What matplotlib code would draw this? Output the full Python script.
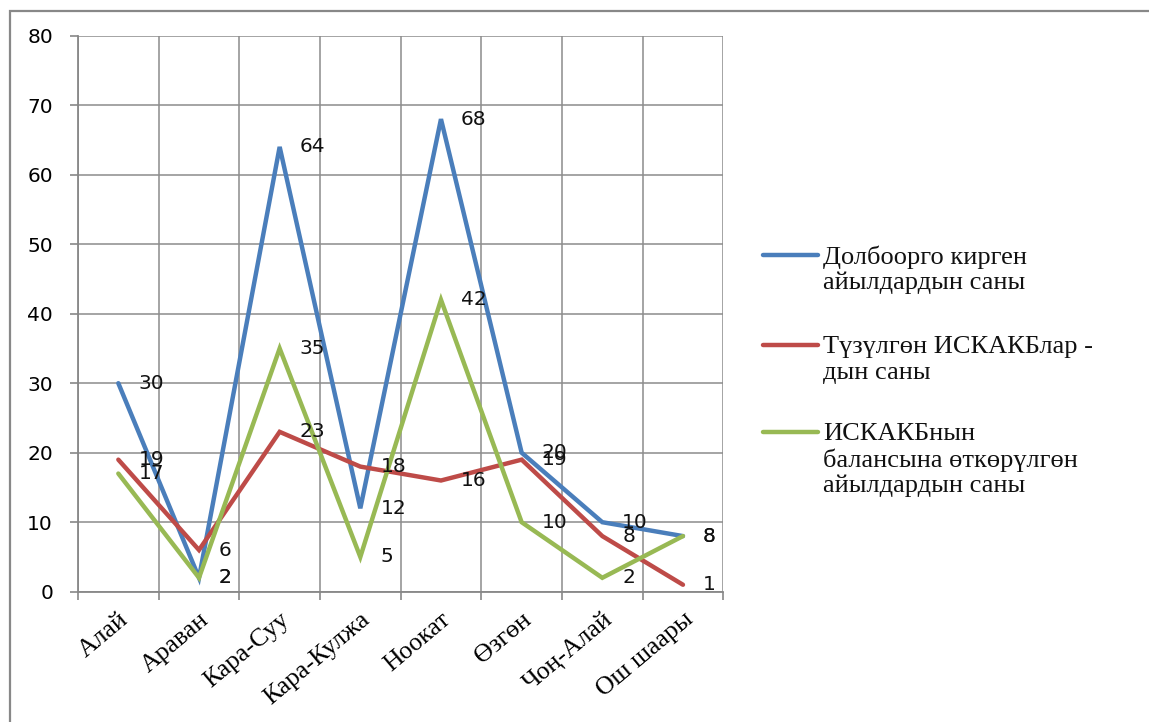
import matplotlib
matplotlib.use('Agg')
from matplotlib import pyplot as plt
from matplotlib.lines import Line2D
from matplotlib.patches import Rectangle
import numpy as np

categories = ['Алай', 'Араван', 'Кара-Суу', 'Кара-Кулжа', 'Ноокат', 'Өзгөн', 'Чоң-Алай', 'Ош шаары']
villages = [30, 2, 64, 12, 68, 20, 10, 8]
created = [19, 6, 23, 18, 16, 19, 8, 1]
transferred = [17, 2, 35, 5, 42, 10, 2, 8]

series_names = [
    ['Долбоорго кирген', 'айылдардын саны'],
    ['Түзүлгөн ИСКАКБлар -', 'дын саны'],
    ['ИСКАКБнын', 'балансына өткөрүлгөн', 'айылдардын саны'],
]
colors = ['#4A7EBB', '#BE4B48', '#98B954']

W, H = 1149, 722
fig = plt.figure(figsize=(W / 100, H / 100), dpi=100)
ax = fig.add_axes([78 / W, 1 - 591.7 / H, (723.3 - 78) / W, (591.7 - 35.7) / H])

x = np.arange(len(categories))
for vals, c in zip([villages, created, transferred], colors):
    ax.plot(x, vals, color=c, lw=3.2, solid_capstyle='round', solid_joinstyle='miter', zorder=3)
    for xi, v in zip(x, vals):
        ax.annotate(str(v), (xi, v), xytext=(20, 0), textcoords='offset pixels',
                    ha='left', va='center', fontsize=14.5, color='#111111',
                    family='DejaVu Sans', zorder=4)

ax.set_xlim(-0.5, len(categories) - 0.5)
ax.set_ylim(0, 80)
ax.set_yticks(range(0, 81, 10))
ax.set_xticks(np.arange(-0.5, len(categories), 1.0))
ax.set_xticklabels([])
ax.set_xticks(x, minor=True)
ax.set_xticklabels(categories, minor=True, rotation=40, ha='right',
                   rotation_mode='anchor', family='Liberation Serif', fontsize=18.5)
ax.tick_params(axis='x', which='minor', length=0, pad=12)
ax.tick_params(axis='x', which='major', length=6, color='#888888', width=1.2)
ax.tick_params(axis='y', length=6, color='#888888', width=1.2, pad=12, labelsize=14.5)
for lab in ax.get_yticklabels():
    lab.set_family('DejaVu Sans')

ax.grid(True, which='major', color='#8c8c8c', lw=1.1)
ax.set_axisbelow(True)
for s in ['top', 'right']:
    ax.spines[s].set_visible(False)
for s in ['left', 'bottom']:
    ax.spines[s].set_color('#888888')
    ax.spines[s].set_linewidth(1.3)

# legend drawn by hand so that the handle sits at the first text line
handle_y = [255, 345, 432]
for names, c, hy in zip(series_names, colors, handle_y):
    fig.add_artist(Line2D([763 / W, 818 / W], [1 - hy / H, 1 - hy / H],
                          transform=fig.transFigure, color=c, lw=3.2,
                          solid_capstyle='round'))
    for i, line in enumerate(names):
        fig.text(823 / W, 1 - (hy + 2 + i * 26) / H, line, ha='left', va='center',
                 family='Liberation Serif', fontsize=19, color='#111111')

# chart border (cropped on the right and bottom)
fig.add_artist(Rectangle((9.5 / W, -0.05), 1.1, 1.05 - 11.5 / H,
                         transform=fig.transFigure, fill=False,
                         edgecolor='#888888', lw=1.6))

plt.savefig('out.png', dpi=100)
